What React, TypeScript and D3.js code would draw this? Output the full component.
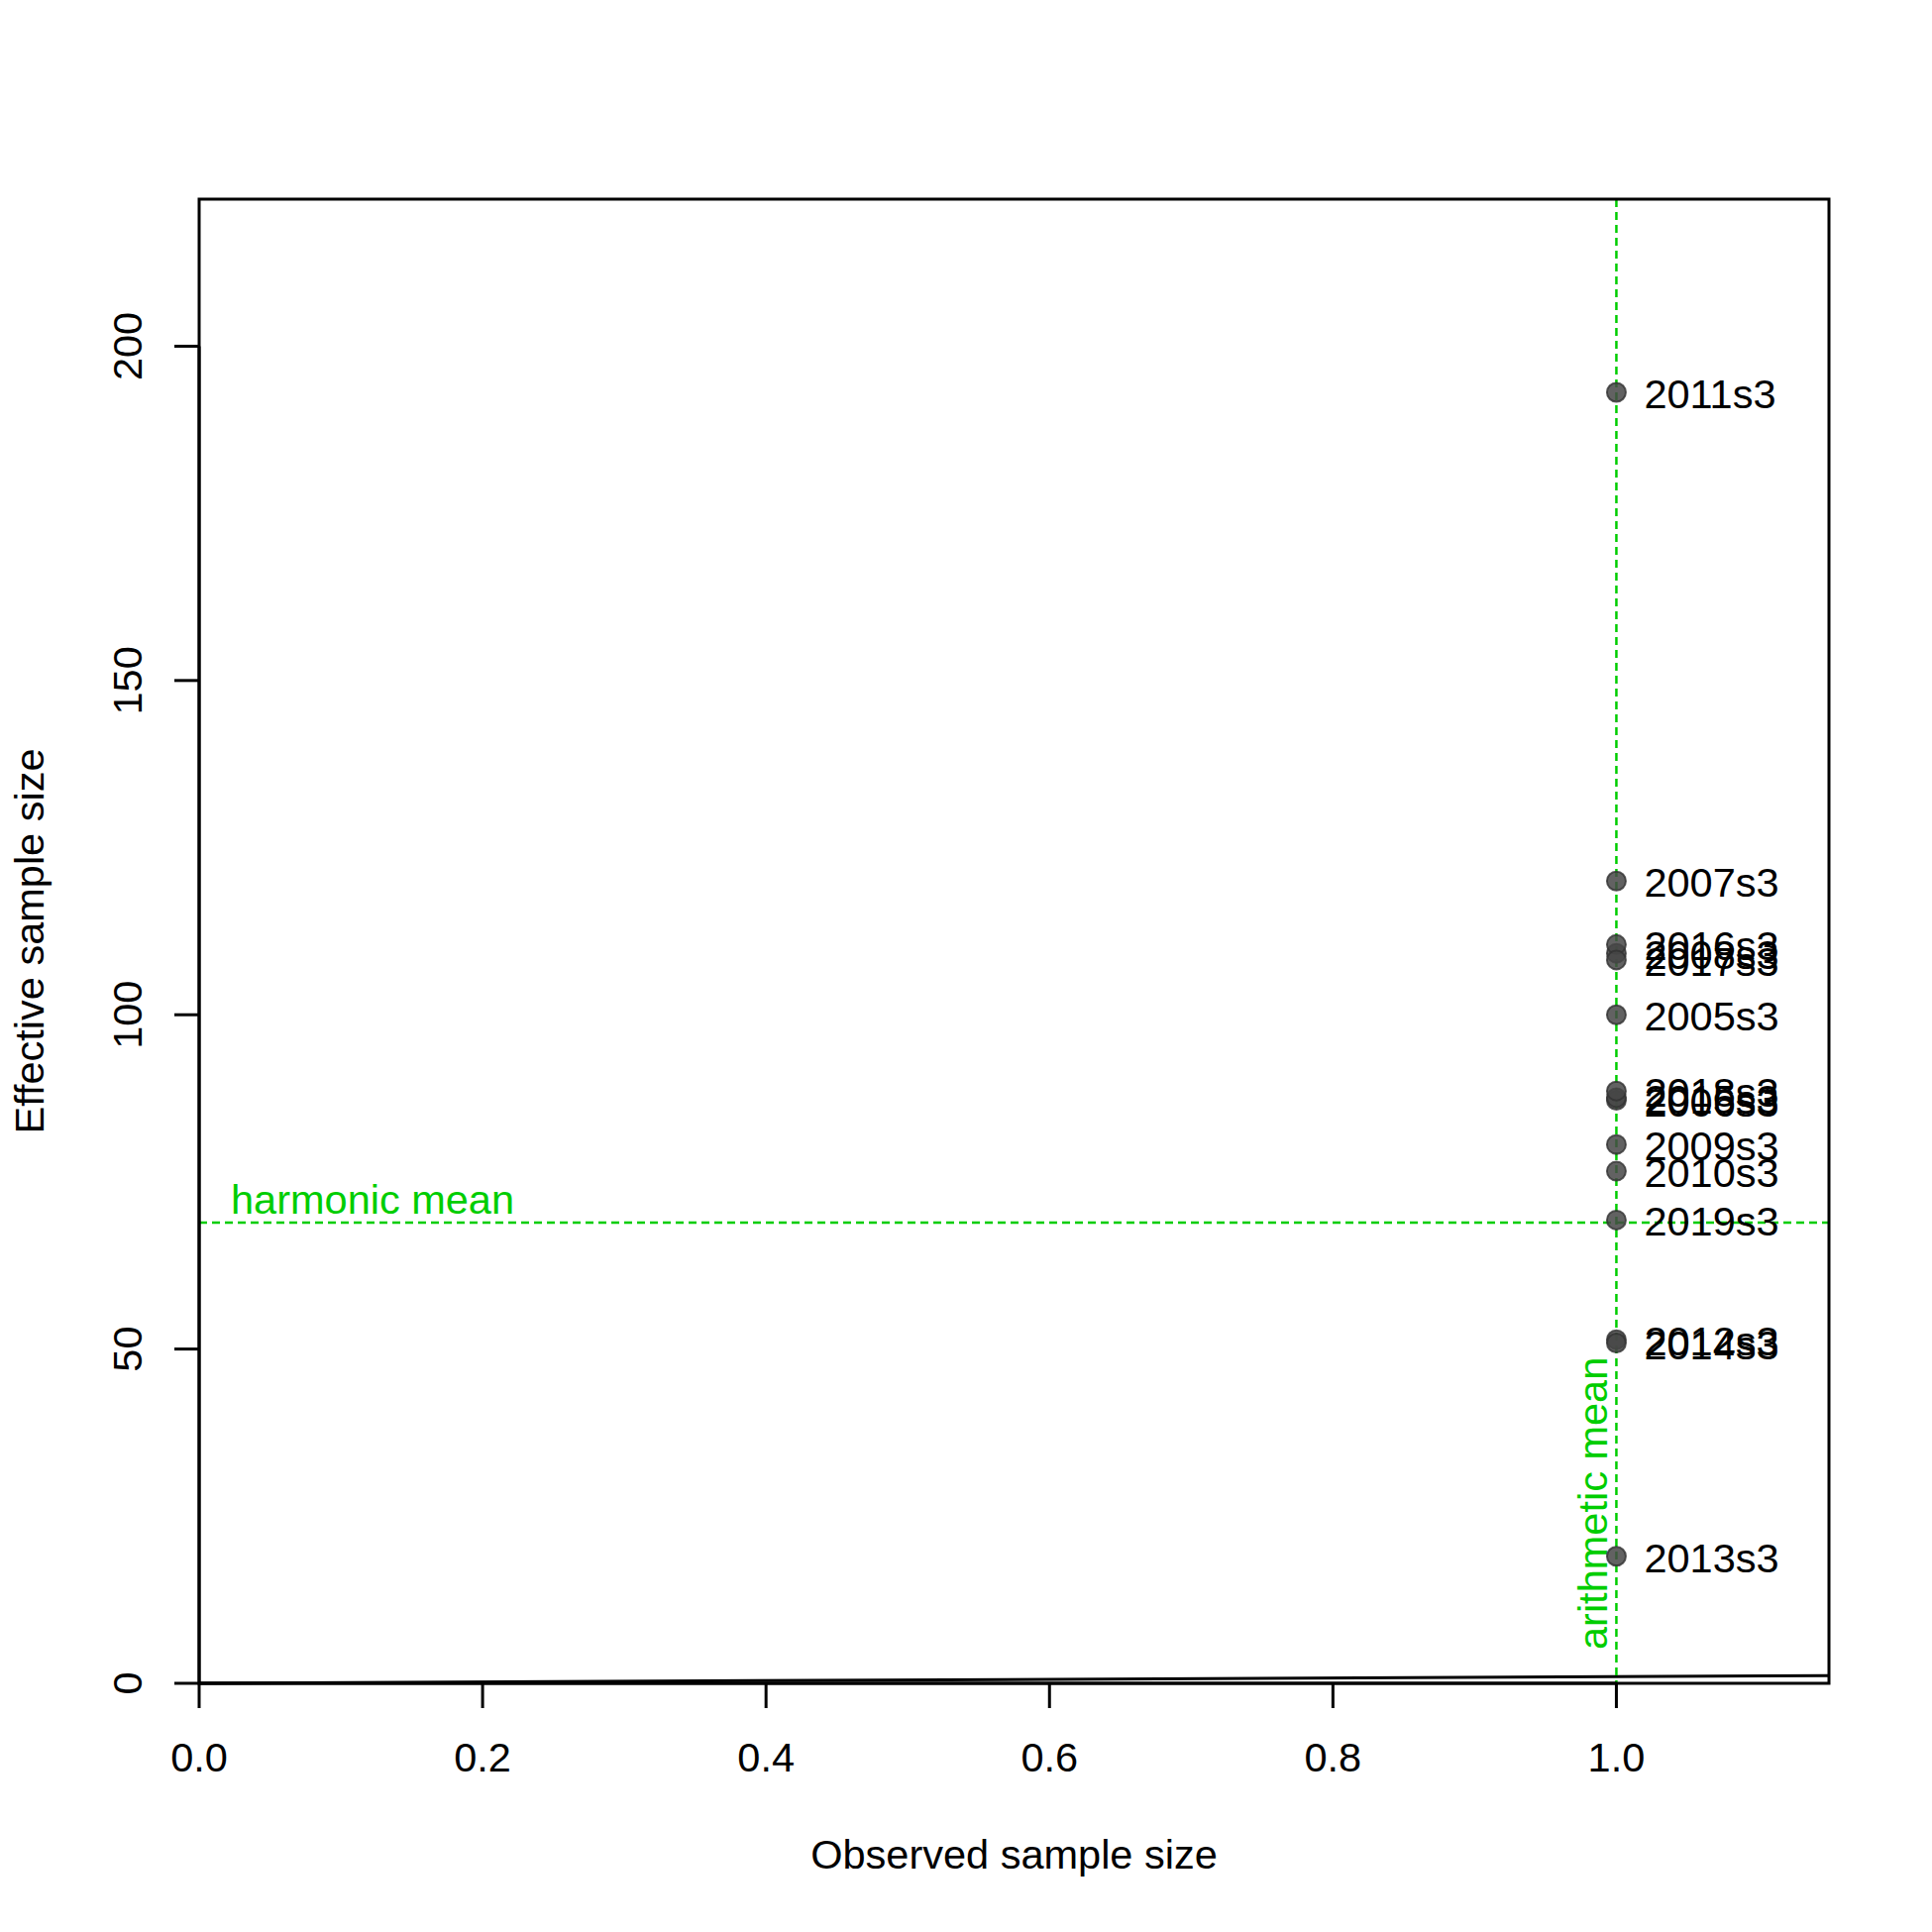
import React from "react";
import * as d3 from "d3";

const labels = ["2005s3","2006s3","2007s3","2008s3","2009s3","2010s3","2011s3","2012s3","2013s3","2014s3","2015s3","2016s3","2017s3","2018s3","2019s3"];
const observed = [1,1,1,1,1,1,1,1,1,1,1,1,1,1,1];
const effective = [100.0, 87.2, 120.0, 109.2, 80.6, 76.6, 193.1, 51.4, 19.0, 50.9, 87.6, 110.5, 108.2, 88.6, 69.3];
const xTicks = [0, 0.2, 0.4, 0.6, 0.8, 1.0];
const yTicks = [0, 50, 100, 150, 200];
const harmonicMean = 68.9;
const arithmeticMean = 1.0;
const xMax = 1.15;
const yMax = 222;

const W = 1950, H = 1950;
const L = 201, R = 1846, T = 201, B = 1699;
const FONT = "'Liberation Sans', Arial, sans-serif";
const GREEN = "#00CD00";

export default function App() {
  const x = d3.scaleLinear().domain([0, xMax]).range([L, R]);
  const y = d3.scaleLinear().domain([0, yMax]).range([B, T]);
  const diag = d3.line<number>().x(d => x(d)).y(d => y(d));
  const fs = 41.5;
  return (
    <svg width={W} height={H} style={{ position: "absolute", left: 0, top: 0, background: "#fff" }} fontFamily={FONT}>
      <rect x={0} y={0} width={W} height={H} fill="#fff" />
      {/* y = x reference line */}
      <path d={diag([0, xMax]) || ""} stroke="#000" strokeWidth={3} fill="none" />
      {/* mean lines */}
      <line x1={L} x2={R} y1={y(harmonicMean)} y2={y(harmonicMean)} stroke={GREEN} strokeWidth={2.5} strokeDasharray="8,5" />
      <line x1={x(arithmeticMean)} x2={x(arithmeticMean)} y1={T} y2={B} stroke={GREEN} strokeWidth={2.5} strokeDasharray="8,5" />
      <text x={233} y={y(harmonicMean) - 9} fontSize={fs} fill={GREEN}>harmonic mean</text>
      <text transform={`translate(${x(arithmeticMean) - 9},${B - 34}) rotate(-90)`} fontSize={fs} fill={GREEN}>arithmetic mean</text>
      {/* points */}
      {effective.map((v, i) => (
        <circle key={"p" + i} cx={x(observed[i])} cy={y(v)} r={9.5} fill="rgba(70,70,70,0.85)" stroke="rgba(50,50,50,0.8)" strokeWidth={2} />
      ))}
      {effective.map((v, i) => (
        <text key={"t" + i} x={x(observed[i]) + 28} y={y(v) + 16} fontSize={fs} fill="#000">{labels[i]}</text>
      ))}
      {/* box */}
      <rect x={L} y={T} width={R - L} height={B - T} fill="none" stroke="#000" strokeWidth={3} />
      {/* x axis */}
      <line x1={x(xTicks[0])} x2={x(xTicks[xTicks.length - 1])} y1={B} y2={B} stroke="#000" strokeWidth={3} />
      {xTicks.map(t => (
        <g key={"xt" + t}>
          <line x1={x(t)} x2={x(t)} y1={B} y2={B + 25} stroke="#000" strokeWidth={3} />
          <text x={x(t)} y={1788} fontSize={fs} textAnchor="middle">{d3.format(".1f")(t)}</text>
        </g>
      ))}
      {/* y axis */}
      <line x1={L} x2={L} y1={y(yTicks[0])} y2={y(yTicks[yTicks.length - 1])} stroke="#000" strokeWidth={3} />
      {yTicks.map(t => (
        <g key={"yt" + t}>
          <line x1={L} x2={L - 25} y1={y(t)} y2={y(t)} stroke="#000" strokeWidth={3} />
          <text transform={`translate(143,${y(t)}) rotate(-90)`} fontSize={fs} textAnchor="middle">{t}</text>
        </g>
      ))}
      <text x={(L + R) / 2} y={1886} fontSize={fs} textAnchor="middle">Observed sample size</text>
      <text transform={`translate(44,${(T + B) / 2}) rotate(-90)`} fontSize={fs} textAnchor="middle">Effective sample size</text>
    </svg>
  );
}
